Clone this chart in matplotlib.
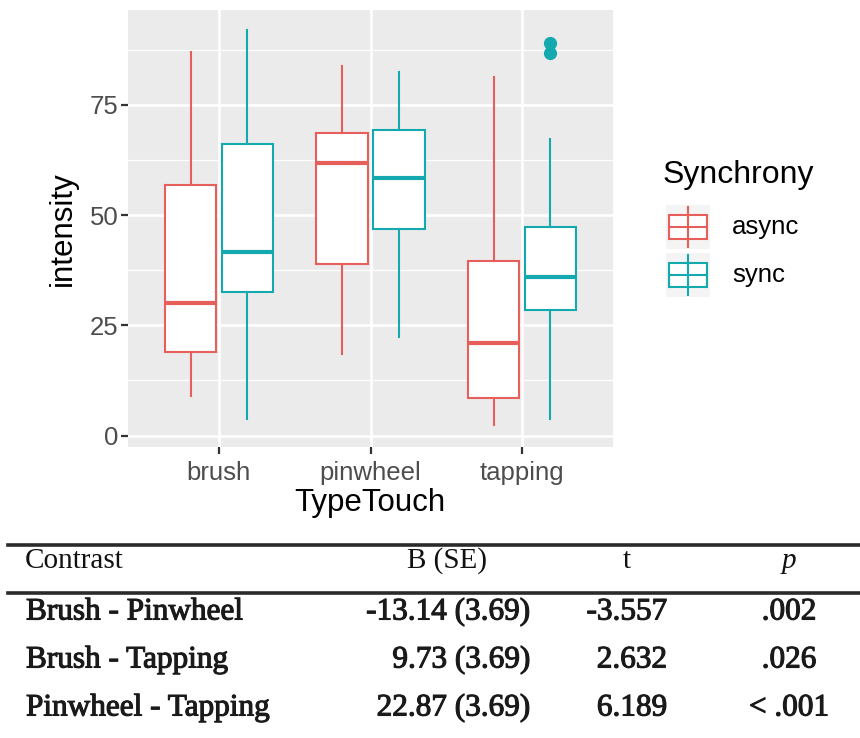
import matplotlib
matplotlib.use('Agg')
import matplotlib.pyplot as plt
from matplotlib.patches import Rectangle
from matplotlib.lines import Line2D
import matplotlib.patheffects as pe

# ---------------- data ----------------
categories = ['brush', 'pinwheel', 'tapping']
groups = ['async', 'sync']

async_whislo = [9.0, 18.6, 2.3]
async_q1 = [19.0, 38.9, 8.6]
async_med = [30.0, 61.7, 21.0]
async_q3 = [56.9, 68.5, 39.5]
async_whishi = [86.9, 83.9, 81.2]
async_fliers = [[], [], []]

sync_whislo = [3.8, 22.3, 3.8]
sync_q1 = [32.6, 46.9, 28.4]
sync_med = [41.6, 58.3, 35.9]
sync_q3 = [66.1, 69.4, 47.3]
sync_whishi = [91.9, 82.4, 67.3]
sync_fliers = [[], [], [89.0, 86.7]]

y_ticks = [0, 25, 50, 75]

table_header = ['Contrast', 'B (SE)', 't', 'p']
table_contrast = ['Brush - Pinwheel', 'Brush - Tapping', 'Pinwheel - Tapping']
table_b = ['-13.14 (3.69)', '9.73 (3.69)', '22.87 (3.69)']
table_t = ['-3.557', '2.632', '6.189']
table_p = ['.002', '.026', '< .001']

# ---------------- style ----------------
W, H = 860, 738
RED = '#E65F5A'
CYAN = '#14A9AE'
colors = {'async': RED, 'sync': CYAN}
SANS = ['Liberation Sans', 'DejaVu Sans']
SERIF = ['Liberation Serif', 'DejaVu Serif']

plt.rcParams['font.family'] = SANS

fig = plt.figure(figsize=(W / 100, H / 100), dpi=100)
fig.patch.set_facecolor('white')


def px(x, y):
    return x / W, 1 - y / H


# panel
left, right, top, bottom = 128, 613, 10, 447
ax = fig.add_axes([left / W, 1 - bottom / H, (right - left) / W, (bottom - top) / H])
ax.set_facecolor('#EBEBEB')
ax.set_xlim(0.4, 3.6)
ax.set_ylim(-2.6, 96.5)
for s in ax.spines.values():
    s.set_visible(False)

ax.set_yticks(y_ticks)
ax.set_yticks([12.5, 37.5, 62.5, 87.5], minor=True)
ax.set_xticks(range(1, len(categories) + 1))
ax.set_xticklabels(categories)
ax.grid(which='major', color='white', linewidth=1.9)
ax.grid(which='minor', axis='y', color='white', linewidth=0.9)
ax.set_axisbelow(True)
ax.tick_params(axis='both', which='major', length=5, width=1.6, color='#333333',
               labelcolor='#4D4D4D', labelsize=18.5)
ax.tick_params(axis='y', pad=2)
ax.tick_params(axis='x', pad=5)
ax.tick_params(which='minor', length=0)

series = {
    'async': (async_whislo, async_q1, async_med, async_q3, async_whishi, async_fliers),
    'sync': (sync_whislo, sync_q1, sync_med, sync_q3, sync_whishi, sync_fliers),
}
offsets = {'async': -0.1875, 'sync': 0.1875}
box_w = 0.34

for g in groups:
    wl, a, m, b, wh, fl = series[g]
    stats = []
    for i in range(len(categories)):
        stats.append(dict(whislo=wl[i], q1=a[i], med=m[i], q3=b[i], whishi=wh[i],
                          fliers=fl[i]))
    pos = [i + 1 + offsets[g] for i in range(len(categories))]
    c = colors[g]
    ax.bxp(stats, positions=pos, widths=box_w, patch_artist=True, showcaps=False,
           boxprops=dict(facecolor='white', edgecolor=c, linewidth=1.5),
           whiskerprops=dict(color=c, linewidth=1.5),
           medianprops=dict(color=c, linewidth=3.0, solid_capstyle='butt'),
           flierprops=dict(marker='o', markerfacecolor=c, markeredgecolor=c,
                           markersize=8.5),
           manage_ticks=False, zorder=3)

# axis titles
fig.text(*px(63, 229), 'intensity', rotation=90, ha='center', va='center',
         fontsize=22.5, color='black')
fig.text(*px(370, 503), 'TypeTouch', ha='center', va='center',
         fontsize=22.5, color='black')

# legend
lax = fig.add_axes([0, 0, 1, 1])
lax.set_xlim(0, W)
lax.set_ylim(H, 0)
lax.axis('off')
lax.patch.set_alpha(0)
fig.text(*px(663, 175), 'Synchrony', ha='left', va='center', fontsize=23, color='black')
key_y = {'async': 227, 'sync': 275}
for g in groups:
    cy = key_y[g]
    c = colors[g]
    lax.add_patch(Rectangle((666, cy - 22), 44, 44, facecolor='#F4F4F4', edgecolor='none'))
    lax.add_line(Line2D([688, 688], [cy - 20, cy + 20], color=c, lw=1.5))
    lax.add_patch(Rectangle((669, cy - 12), 38, 24, facecolor='white', edgecolor=c, lw=1.5))
    lax.add_line(Line2D([669, 707], [cy, cy], color=c, lw=1.5))
    fig.text(*px(732, cy), g, ha='left', va='center', fontsize=18.5, color='black')

# table
lax.add_line(Line2D([8, 860], [545, 545], color='#2A2A2A', lw=2.6))
lax.add_line(Line2D([8, 860], [593, 593], color='#2A2A2A', lw=2.6))
hfs = 21
rfs = 22.5
hy = 561
semi = [pe.withStroke(linewidth=0.8, foreground='#1A1A1A')]
fig.text(*px(25, hy), table_header[0], ha='left', va='center', fontsize=hfs,
         family=SERIF, color='#111111')
fig.text(*px(447, hy), table_header[1], ha='center', va='center', fontsize=hfs,
         family=SERIF, color='#111111')
fig.text(*px(627, hy), table_header[2], ha='center', va='center', fontsize=hfs,
         family=SERIF, color='#111111')
fig.text(*px(789, hy), table_header[3], ha='center', va='center', fontsize=hfs,
         family=SERIF, style='italic', color='#111111')
row_y = [612, 660, 708]
for i, y in enumerate(row_y):
    fig.text(*px(26, y), table_contrast[i], ha='left', va='center', fontsize=rfs,
             family=SERIF, color='#1A1A1A', path_effects=semi)
    fig.text(*px(530, y), table_b[i], ha='right', va='center', fontsize=rfs,
             family=SERIF, color='#1A1A1A', path_effects=semi)
    fig.text(*px(667, y), table_t[i], ha='right', va='center', fontsize=rfs,
             family=SERIF, color='#1A1A1A', path_effects=semi)
    fig.text(*px(789, y), table_p[i], ha='center', va='center', fontsize=rfs,
             family=SERIF, color='#1A1A1A', path_effects=semi)

fig.savefig('out.png', dpi=100, facecolor='white')
